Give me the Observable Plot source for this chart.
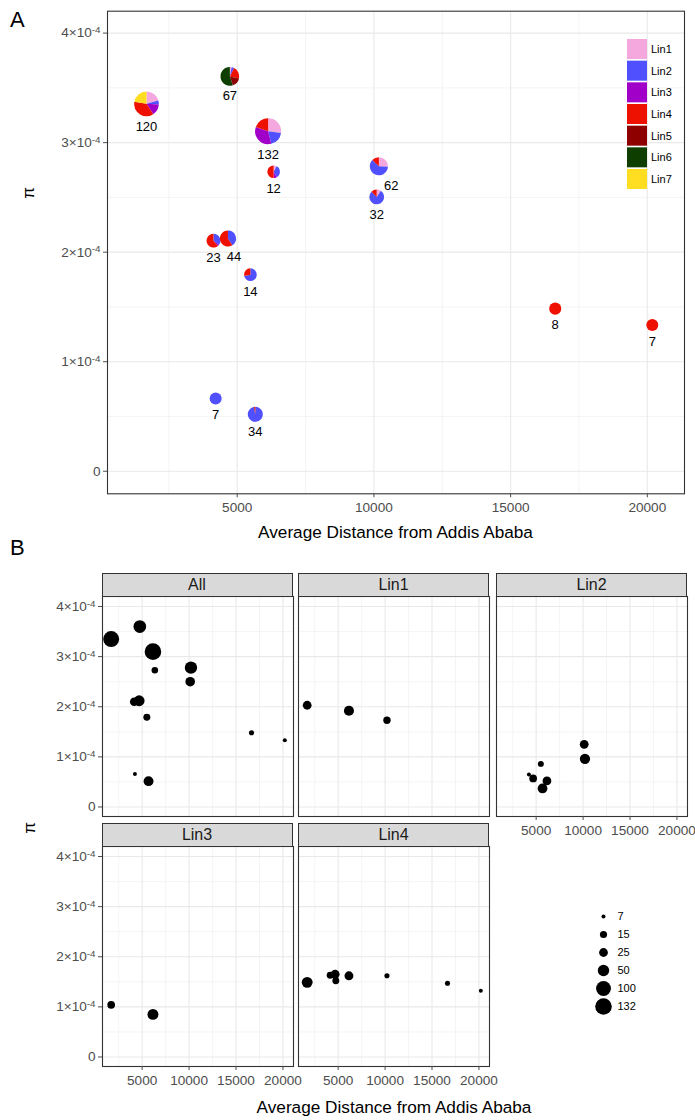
<!DOCTYPE html>
<html>
<head>
<meta charset="utf-8">
<script src="https://cdn.jsdelivr.net/npm/d3@7"></script>
<script src="https://cdn.jsdelivr.net/npm/@observablehq/plot@0.6"></script>
<style>
  body { margin: 0; background: #fff; font-family: "Liberation Sans", Arial, Helvetica, sans-serif; }
  #page { position: relative; width: 695px; height: 1120px; overflow: hidden; background: #fff; }
  .tag { font-size: 22px; line-height: 22px; color: #000; }
  .xtitle { font-size: 17.2px; line-height: 1; color: #000; transform: translate(-50%, -50%); white-space: nowrap; }
  .ytitle { font-size: 17px; line-height: 1; color: #000; transform: translate(-50%, -50%) rotate(-90deg); }
  .strip { box-sizing: border-box; background: #d9d9d9; border: 1px solid #333; font-size: 16px;
           color: #1a1a1a; text-align: center; line-height: 21px; }
</style>
</head>
<body>
<div id="page"></div>
<script>
// ---- Lineages ----
const lineages = ["Lin1", "Lin2", "Lin3", "Lin4", "Lin5", "Lin6", "Lin7"];
const lineageColors = ["#F5A8DD", "#5050FF", "#A000C8", "#EE1000", "#8E0000", "#0F3F00", "#FFDD20"];

// ---- Sampling sites: mean distance from Addis Ababa, nucleotide diversity, isolates per lineage ----
const siteDistance = [1700, 4750, 6150, 6350, 10200, 10120, 4150, 4680, 5500, 4230, 5680, 16650, 20200];
const sitePi = [3.35e-4, 3.60e-4, 3.10e-4, 2.73e-4, 2.78e-4, 2.50e-4, 2.10e-4, 2.12e-4, 1.79e-4, 0.66e-4, 0.515e-4, 1.48e-4, 1.33e-4];
const siteCounts = [
  [25, 6, 18, 44, 0, 0, 27],
  [2, 3, 0, 14, 11, 37, 0],
  [36, 25, 45, 26, 0, 0, 0],
  [1, 4, 1, 6, 0, 0, 0],
  [16, 38, 0, 8, 0, 0, 0],
  [3, 25, 0, 4, 0, 0, 0],
  [0, 8, 1, 14, 0, 0, 0],
  [0, 18, 0, 26, 0, 0, 0],
  [0, 10, 0, 4, 0, 0, 0],
  [0, 7, 0, 0, 0, 0, 0],
  [0, 33, 0, 1, 0, 0, 0],
  [0, 0, 0, 8, 0, 0, 0],
  [0, 0, 0, 7, 0, 0, 0]
];

// ---- Per-lineage diversity at each site (site index, pi) ----
const lin1Sites = [0, 2, 4];
const lin1Pi = [2.03e-4, 1.92e-4, 1.73e-4];
const lin2Sites = [9, 7, 8, 2, 10, 5, 4];
const lin2Pi = [0.65e-4, 0.57e-4, 0.86e-4, 0.52e-4, 0.37e-4, 1.25e-4, 0.96e-4];
const lin3Sites = [0, 2];
const lin3Pi = [1.04e-4, 0.85e-4];
const lin4Sites = [0, 6, 7, 1, 2, 4, 11, 12];
const lin4Pi = [1.49e-4, 1.63e-4, 1.65e-4, 1.52e-4, 1.62e-4, 1.62e-4, 1.47e-4, 1.32e-4];

// ---- Axis ticks ----
const xMajor = [5000, 10000, 15000, 20000];
const xMinor = [2500, 7500, 12500, 17500];
const xTickLabels = ["5000", "10000", "15000", "20000"];
const yMajor = [0, 1e-4, 2e-4, 3e-4, 4e-4];
const yMinor = [0.5e-4, 1.5e-4, 2.5e-4, 3.5e-4];
const yTickMantissa = ["0", "1", "2", "3", "4"];
const yTickExponent = [null, "-4", "-4", "-4", "-4"];
const sizeBreaks = [7, 15, 25, 50, 100, 132];

const xTitle = "Average Distance from Addis Ababa";
const yTitle = "π";

// ---- Derived tables ----
const sites = siteDistance.map((_, i) => i);
const siteTotals = siteCounts.map(c => d3.sum(c));

const slices = [];
siteCounts.forEach((counts, s) => {
  let acc = 0;
  const total = siteTotals[s];
  counts.forEach((c, k) => {
    if (c > 0) slices.push({site: s, lineage: lineages[k],
      a0: 2 * Math.PI * acc / total, a1: 2 * Math.PI * (acc + c) / total});
    acc += c;
  });
});

const supDigits = {"-": "\u207B", "0": "\u2070", "1": "\u00B9", "2": "\u00B2", "3": "\u00B3", "4": "\u2074", "5": "\u2075", "6": "\u2076", "7": "\u2077", "8": "\u2078", "9": "\u2079"};
const yTickLabels = yTickMantissa.map((m, i) => yTickExponent[i] == null ? m
  : m + "×10" + [...yTickExponent[i]].map(c => supDigits[c]).join(""));
const xLabelOf = d => xTickLabels[xMajor.indexOf(d)];
const yLabelOf = d => yTickLabels[yMajor.indexOf(d)];

// ---- Shared styling ----
const font = "'Liberation Sans', Arial, Helvetica, sans-serif";
const tickFont = 13.6;
const plotStyle = {background: "transparent", fontFamily: font, fontSize: tickFont + "px", color: "#4d4d4d", overflow: "visible"};
const gridMajor = {stroke: "#e9e9e9", strokeOpacity: 1, strokeWidth: 1.1};
const gridMinor = {stroke: "#f1f1f1", strokeOpacity: 1, strokeWidth: 0.8};
const axisXOpts = {tickFormat: d => xLabelOf(d), tickSize: 4, tickPadding: 4.5, label: null, color: "#4d4d4d", fontSize: tickFont};
const axisYOpts = {tickFormat: d => yLabelOf(d), tickSize: 4, tickPadding: 3, label: null, color: "#4d4d4d", fontSize: tickFont};
const page = document.getElementById("page");

function place(el, left, top) {
  el.style.position = "absolute";
  el.style.left = left + "px";
  el.style.top = top + "px";
  page.appendChild(el);
  return el;
}
function addDiv(cls, text, left, top, extra = {}) {
  const d = document.createElement("div");
  d.className = cls;
  d.textContent = text;
  Object.assign(d.style, extra);
  return place(d, left, top);
}

// Typeset the y tick labels as mantissa × 10 with a raised exponent
function raiseExponents(svg) {
  d3.select(svg).selectAll("text").each(function () {
    const t = d3.select(this);
    const k = yTickLabels.indexOf(t.text());
    if (k < 0 || yTickExponent[k] == null) return;
    t.text(null);
    t.append("tspan").text(yTickMantissa[k] + "×10");
    t.append("tspan").attr("dy", "-0.42em").attr("font-size", "0.72em").text(yTickExponent[k]);
  });
  return svg;
}

// Pie wedges: one path per lineage slice, centred on its site
function drawWedges(index, scales, values) {
  const g = d3.create("svg:g");
  const arc = d3.arc();
  for (const i of index) {
    const s = slices[i];
    g.append("path")
      .attr("transform", `translate(${values.x[i]},${values.y[i]})`)
      .attr("d", arc({innerRadius: 0, outerRadius: values.r[i], startAngle: s.a0, endAngle: s.a1}))
      .attr("fill", values.fill[i]);
  }
  return g.node();
}

// Sample-size labels under each pie; labels are nudged sideways off other labels and pies
function drawSiteLabels(index, scales, values) {
  const fs = 13;
  const g = d3.create("svg:g")
    .attr("font-size", fs).attr("text-anchor", "middle").attr("fill", "#000");
  const rs = scales.r ?? (() => 8);
  const pies = Array.from(index, i => ({i, x: values.x[i], y: values.y[i], r: rs(siteTotals[i])}));
  const boxes = pies.map(p => {
    const text = values.text[p.i];
    return {i: p.i, text, x: p.x, y: p.y + p.r + 10, w: text.length * fs * 0.556};
  }).sort((a, b) => a.x - b.x);
  // clear neighbouring pies
  for (const box of boxes) {
    for (const p of pies) {
      if (p.i === box.i) continue;
      const top = box.y - fs / 2, bottom = box.y + fs / 2;
      const dy = Math.max(top - p.y, p.y - bottom, 0);
      if (dy >= p.r) continue;
      const half = Math.sqrt(p.r * p.r - dy * dy);
      if (Math.abs(box.x - p.x) < box.w / 2 + half) {
        const dir = box.x >= p.x ? 1 : -1;
        box.x = p.x + dir * (box.w / 2 + half + 2);
      }
    }
  }
  // clear neighbouring labels
  boxes.sort((a, b) => a.x - b.x);
  for (let a = 0; a < boxes.length; a++) {
    for (let b = a + 1; b < boxes.length; b++) {
      const A = boxes[a], B = boxes[b];
      const need = (A.w + B.w) / 2 + 6;
      if (Math.abs(A.y - B.y) < fs && B.x - A.x < need) B.x = A.x + need;
    }
  }
  for (const box of boxes) {
    g.append("text").attr("x", box.x).attr("y", box.y).attr("dy", "0.35em").text(box.text);
  }
  return g.node();
}

// ================= Panel A =================
const plotA = Plot.plot({
  width: 695, height: 545,
  marginLeft: 107, marginRight: 11, marginTop: 10.7, marginBottom: 51.7,
  x: {domain: [256, 21360], axis: null},
  y: {domain: [-0.206e-4, 4.2e-4], axis: null},
  r: {type: "linear", domain: [7, 132], range: [6, 13]},
  color: {domain: lineages, range: lineageColors},
  style: plotStyle,
  marks: [
    Plot.gridX(xMinor, gridMinor),
    Plot.gridY(yMinor, gridMinor),
    Plot.gridX(xMajor, gridMajor),
    Plot.gridY(yMajor, gridMajor),
    Plot.frame({stroke: "#333", strokeWidth: 1.1}),
    Plot.axisX(xMajor, axisXOpts),
    Plot.axisY(yMajor, axisYOpts),
    Plot.dot(slices, {
      x: d => siteDistance[d.site], y: d => sitePi[d.site], r: d => siteTotals[d.site],
      fill: "lineage", sort: null, render: drawWedges
    }),
    Plot.text(sites, {
      x: i => siteDistance[i], y: i => sitePi[i], text: i => String(siteTotals[i]),
      render: drawSiteLabels
    })
  ]
});
place(raiseExponents(plotA), 0, 0);

// Lineage colour key inside panel A
const keyA = Plot.plot({
  width: 60, height: 150, marginTop: 0, marginBottom: 0, marginLeft: 0, marginRight: 40,
  x: {type: "band", domain: ["key"], range: [0, 20], padding: 0, round: false, axis: null},
  y: {type: "band", domain: lineages, range: [0, 150], paddingInner: 0.077, paddingOuter: 0, round: false, axis: null},
  color: {domain: lineages, range: lineageColors},
  style: {...plotStyle, color: "#000"},
  marks: [
    Plot.cell(lineages, {x: () => "key", y: d => d, fill: d => d, inset: 0}),
    Plot.text(lineages, {x: () => "key", y: d => d, text: d => d, dx: 13.5, textAnchor: "start", fontSize: 11, fill: "#000"})
  ]
});
place(keyA, 626.7, 39);

addDiv("tag", "A", 10, 9);
addDiv("xtitle", xTitle, 395.5, 533);
addDiv("ytitle", yTitle, 28, 193);

// ================= Panel B =================
const rScaleB = {type: "linear", transform: n => Math.sqrt(Math.max(0, n - 7)), domain: [0, Math.sqrt(125)], range: [2, 8.3]};
const xDomainB = [775, 21125];
const yDomainB = [-0.19e-4, 4.2e-4];
const colX = [101.5, 298, 496];
const panelTop = [596, 846];
const panelW = 191, panelH = 220, stripH = 23;
const ML = 60, MR = 2, MT = 1, MB = 30;

function lineageRows(k, siteIdx, piVals) {
  return siteIdx.map((s, j) => ({x: siteDistance[s], pi: piVals[j], n: siteCounts[s][k]}));
}

const facets = [
  {name: "All", rows: sites.map(i => ({x: siteDistance[i], pi: sitePi[i], n: siteTotals[i]})), col: 0, row: 0, yAxis: true, xAxis: false},
  {name: "Lin1", rows: lineageRows(0, lin1Sites, lin1Pi), col: 1, row: 0, yAxis: false, xAxis: false},
  {name: "Lin2", rows: lineageRows(1, lin2Sites, lin2Pi), col: 2, row: 0, yAxis: false, xAxis: true},
  {name: "Lin3", rows: lineageRows(2, lin3Sites, lin3Pi), col: 0, row: 1, yAxis: true, xAxis: true},
  {name: "Lin4", rows: lineageRows(3, lin4Sites, lin4Pi), col: 1, row: 1, yAxis: false, xAxis: true}
];

for (const f of facets) {
  const p = Plot.plot({
    width: ML + panelW + MR, height: MT + panelH + MB,
    marginLeft: ML, marginRight: MR, marginTop: MT, marginBottom: MB,
    x: {domain: xDomainB, axis: null},
    y: {domain: yDomainB, axis: null},
    r: rScaleB,
    style: plotStyle,
    marks: [
      Plot.gridX(xMinor, gridMinor),
      Plot.gridY(yMinor, gridMinor),
      Plot.gridX(xMajor, gridMajor),
      Plot.gridY(yMajor, gridMajor),
      Plot.frame({stroke: "#333", strokeWidth: 1.1}),
      f.xAxis ? Plot.axisX(xMajor, axisXOpts) : null,
      f.yAxis ? Plot.axisY(yMajor, axisYOpts) : null,
      Plot.dot(f.rows, {x: "x", y: "pi", r: "n", fill: "#000", stroke: "none"})
    ]
  });
  place(raiseExponents(p), colX[f.col] - ML, panelTop[f.row] - MT);
  addDiv("strip", f.name, colX[f.col], panelTop[f.row] - stripH, {width: panelW + "px", height: (stripH + 1) + "px"});
}

// Sample-size key for panel B
const keyB = Plot.plot({
  width: 60, height: 128.3, marginTop: 0, marginBottom: 0, marginLeft: 0, marginRight: 0,
  x: {type: "point", domain: ["key"], range: [10, 10], axis: null},
  y: {type: "point", domain: sizeBreaks, range: [10, 118.3], axis: null},
  r: rScaleB,
  style: {...plotStyle, color: "#000"},
  marks: [
    Plot.dot(sizeBreaks, {x: () => "key", y: d => d, r: d => d, fill: "#000", stroke: "none", sort: null}),
    Plot.text(sizeBreaks, {x: () => "key", y: d => d, text: d => String(d), dx: 14, textAnchor: "start", fontSize: 11, fill: "#000"})
  ]
});
place(keyB, 602.7 - 10, 907.3 - 10);

addDiv("tag", "B", 10, 537);
addDiv("xtitle", xTitle, 394, 1108);
addDiv("ytitle", yTitle, 29, 828);
</script>
</body>
</html>
